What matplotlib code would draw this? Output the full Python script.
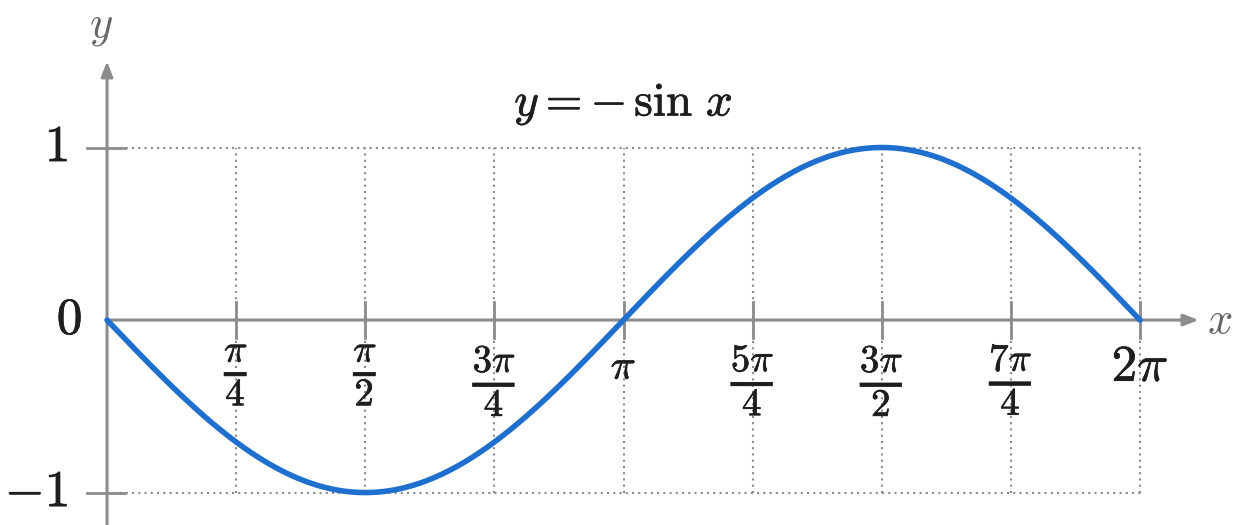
import numpy as np
import matplotlib
matplotlib.use("Agg")
import matplotlib.pyplot as plt
import matplotlib.patheffects as pe

plt.rcParams['mathtext.fontset'] = 'cm'
plt.rcParams['font.family'] = ['DejaVu Serif']

# data
x_ticks = [np.pi/4, np.pi/2, 3*np.pi/4, np.pi, 5*np.pi/4, 3*np.pi/2, 7*np.pi/4, 2*np.pi]
x_tick_labels = [r'$\frac{\pi}{4}$', r'$\frac{\pi}{2}$', r'$\frac{3\pi}{4}$', r'$\pi$',
                 r'$\frac{5\pi}{4}$', r'$\frac{3\pi}{2}$', r'$\frac{7\pi}{4}$', r'$2\pi$']
y_ticks = [1, 0, -1]
y_tick_labels = [r'$1$', r'$0$', r'$-1$']
x = np.linspace(0, 2*np.pi, 400)
y = -np.sin(x)

AX = '#8c8c8c'
GRID = '#8a8a8a'
TXT = '#1e1e1e'
BLUE = '#1f6fce'
bold = [pe.withStroke(linewidth=0.5, foreground=TXT)]

fig = plt.figure(figsize=(12.35, 5.25), dpi=100)
ax = fig.add_axes([0, 0, 1, 1])
ax.set_xlim(-0.651, 6.861)
ax.set_ylim(-1.188, 1.855)
ax.axis('off')

# grid
for xt in x_ticks:
    ax.plot([xt, xt], [-1, 1], color=GRID, lw=1.5, ls=(0, (1, 2.0)), zorder=1)
for yt in (1, -1):
    ax.plot([0, 2*np.pi + 0.02], [yt, yt], color=GRID, lw=1.5, ls=(0, (1, 2.0)), zorder=1)

# axes
ax.annotate('', xy=(6.64, 0), xytext=(0, 0),
            arrowprops=dict(arrowstyle='-|>,head_length=0.9,head_width=0.35', color=AX, lw=2.2,
                            shrinkA=0, shrinkB=0), zorder=2)
ax.annotate('', xy=(0, 1.50), xytext=(0, -1.2),
            arrowprops=dict(arrowstyle='-|>,head_length=0.9,head_width=0.35', color=AX, lw=2.2,
                            shrinkA=0, shrinkB=0), zorder=2)

# ticks
for xt in x_ticks:
    ax.plot([xt, xt], [-0.104, 0.104], color=AX, lw=2, zorder=2)
for yt in (1, -1):
    ax.plot([-0.122, 0.11], [yt, yt], color=AX, lw=2, zorder=2)

# curve
ax.plot(x, y, color=BLUE, lw=4.0, solid_capstyle='round', zorder=3)

# tick labels
for xt, lab in zip(x_ticks, x_tick_labels):
    if lab.startswith(r'$\frac'):
        ax.text(xt, -0.13, lab, ha='center', va='top', fontsize=40, color=TXT, path_effects=bold)
    elif lab == r'$\pi$':
        ax.text(xt, -0.15, lab, ha='center', va='top', fontsize=30, color=TXT, path_effects=bold)
    else:
        ax.text(xt, -0.13, lab, ha='center', va='top', fontsize=37, color=TXT, path_effects=bold)
for yt, lab in zip(y_ticks, y_tick_labels):
    xo = -0.15 if yt == 0 else -0.235
    ax.text(xo, yt, lab, ha='right', va='center', fontsize=37, color=TXT, path_effects=bold)

# axis labels and title
ax.text(-0.04, 1.70, r'$y$', ha='center', va='center', fontsize=32, color='#666666')
ax.text(6.77, 0.0, r'$x$', ha='center', va='center', fontsize=32, color='#666666')
ax.text(np.pi, 1.25, r'$y = -\,\sin\, x$', ha='center', va='center', fontsize=34, color=TXT,
        path_effects=bold)

fig.savefig('out.png', dpi=100)
